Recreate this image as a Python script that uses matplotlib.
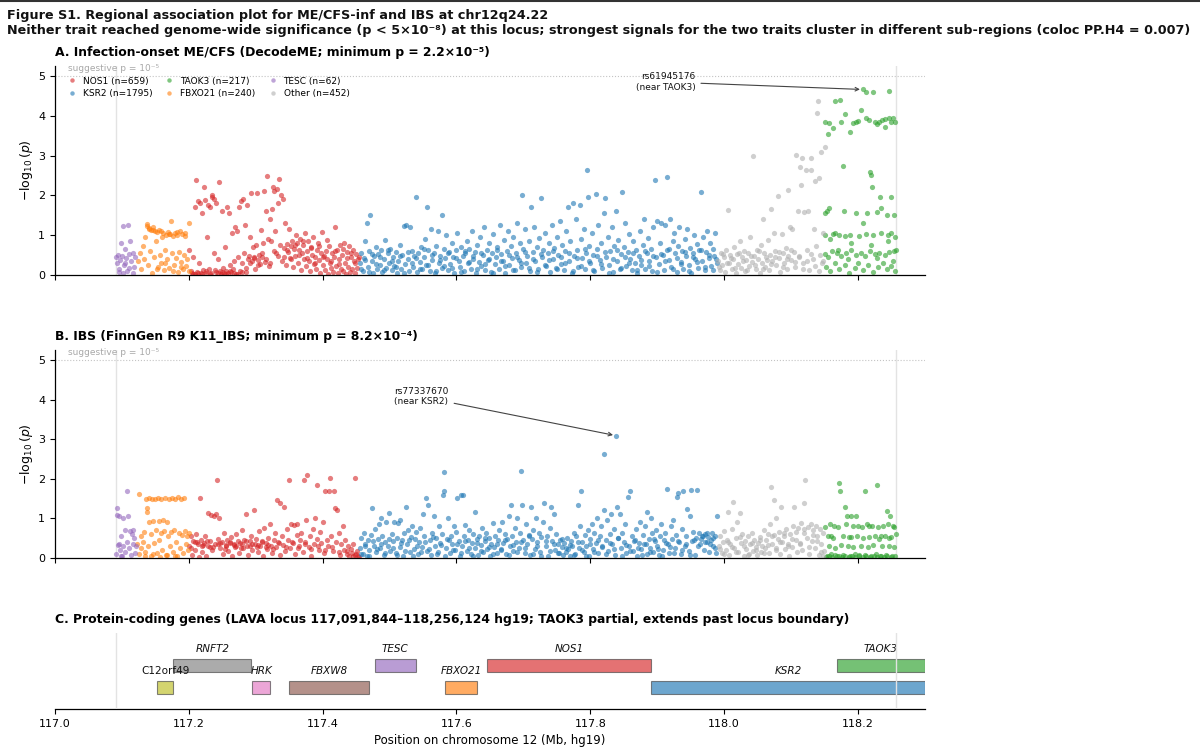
"""
Regional association plot (Figure S1): ME/CFS-inf and IBS at chr12q24.22.

Panels A and B are per-SNP -log10(p) scatters coloured by nearest gene,
panel C is the protein-coding gene track for the LAVA locus.
Writes out.png (1200x750).
"""

import matplotlib

matplotlib.use("Agg")
import matplotlib.pyplot as plt
from matplotlib.lines import Line2D

# ---- locus / thresholds ------------------------------------------------------
LOCUS_START = 117.091844
LOCUS_END = 118.256124
SUGGESTIVE = 5.0  # -log10(1e-5)
X_TICKS = [117.0, 117.2, 117.4, 117.6, 117.8, 118.0, 118.2]

GROUPS = ["NOS1", "KSR2", "TAOK3", "FBXO21", "TESC", "Other"]
GROUP_N = [659, 1795, 217, 240, 62, 452]

# ---- panel A: DecodeME infection-onset ME/CFS, (position Mb, -log10 p) -------
TESC_A = [
    (117.091, 0.45), (117.093, 0.30), (117.094, 0.50), (117.096, 0.15), (117.097, 0.38),
    (117.099, 0.80), (117.100, 0.48), (117.101, 0.05), (117.102, 1.22), (117.103, 0.25),
    (117.105, 0.65), (117.106, 0.42), (117.108, 0.10), (117.109, 1.25), (117.110, 0.52),
    (117.112, 0.85), (117.114, 0.35), (117.116, 0.55), (117.118, 0.20), (117.120, 0.45),
    (117.095, 0.08), (117.104, 0.30), (117.111, 0.18), (117.117, 0.05),
]
FBXO21_A = [
    (117.124, 0.35), (117.127, 0.55), (117.129, 0.15), (117.131, 0.72), (117.133, 0.40),
    (117.135, 0.95), (117.137, 1.22), (117.138, 1.27), (117.139, 0.25), (117.141, 1.15),
    (117.142, 0.60), (117.144, 1.12), (117.145, 0.05), (117.147, 1.20), (117.148, 0.45),
    (117.150, 1.10), (117.151, 0.85), (117.153, 1.08), (117.154, 0.20), (117.156, 1.12),
    (117.157, 0.50), (117.159, 0.30), (117.160, 0.95), (117.162, 1.05), (117.163, 0.12),
    (117.165, 0.62), (117.166, 1.00), (117.168, 0.40), (117.169, 1.08), (117.171, 0.18),
    (117.172, 1.02), (117.174, 1.36), (117.175, 0.55), (117.177, 0.98), (117.178, 0.25),
    (117.180, 1.05), (117.181, 0.42), (117.183, 1.00), (117.184, 0.08), (117.186, 0.58),
    (117.187, 1.10), (117.189, 0.32), (117.190, 1.02), (117.192, 0.15), (117.193, 0.50),
    (117.195, 1.05), (117.196, 0.22), (117.198, 0.40), (117.200, 1.30), (117.201, 0.10),
    (117.140, 1.18), (117.146, 1.14), (117.152, 0.15), (117.158, 1.10), (117.164, 0.30),
    (117.170, 1.04), (117.176, 0.10), (117.182, 1.08), (117.188, 0.20), (117.194, 0.98),
]
NOS1_A = [
    (117.201, 0.62), (117.203, 0.10), (117.205, 0.05), (117.207, 0.45), (117.209, 0.02),
    (117.210, 1.72), (117.211, 2.38), (117.212, 0.08), (117.214, 1.85), (117.215, 0.30),
    (117.217, 1.80), (117.218, 0.04), (117.219, 1.55), (117.221, 0.12), (117.223, 2.20),
    (117.224, 1.88), (117.225, 0.06), (117.227, 0.95), (117.228, 1.75), (117.230, 0.15),
    (117.231, 1.72), (117.232, 0.03), (117.234, 1.95), (117.235, 2.02), (117.237, 0.55),
    (117.238, 1.90), (117.240, 0.08), (117.241, 1.80), (117.243, 0.40), (117.245, 2.33),
    (117.246, 0.10), (117.248, 0.02), (117.249, 1.60), (117.251, 0.18), (117.252, 0.05),
    (117.254, 0.70), (117.255, 0.10), (117.257, 1.70), (117.258, 0.04), (117.260, 1.55),
    (117.261, 0.25), (117.263, 0.08), (117.264, 1.05), (117.266, 0.15), (117.267, 0.35),
    (117.269, 1.20), (117.270, 0.02), (117.272, 1.10), (117.273, 0.45), (117.275, 1.72),
    (117.276, 0.10), (117.278, 1.85), (117.279, 0.30), (117.281, 1.90), (117.282, 0.55),
    (117.284, 1.25), (117.285, 0.08), (117.287, 1.75), (117.288, 0.40), (117.290, 0.48),
    (117.291, 0.95), (117.293, 2.05), (117.294, 0.35), (117.296, 0.70), (117.297, 0.42),
    (117.299, 0.15), (117.300, 0.75), (117.302, 2.06), (117.303, 0.38), (117.305, 0.50),
    (117.306, 0.28), (117.308, 1.12), (117.309, 0.45), (117.311, 0.80), (117.312, 2.12),
    (117.314, 0.32), (117.315, 1.60), (117.317, 2.48), (117.318, 0.90), (117.320, 0.22),
    (117.321, 1.40), (117.323, 0.85), (117.324, 1.65), (117.326, 2.20), (117.327, 2.10),
    (117.329, 1.10), (117.330, 0.55), (117.332, 2.15), (117.333, 1.80), (117.335, 2.42),
    (117.336, 0.75), (117.338, 2.00), (117.339, 0.35), (117.341, 1.90), (117.342, 0.68),
    (117.344, 1.30), (117.345, 0.25), (117.347, 0.78), (117.348, 0.58), (117.350, 1.15),
    (117.351, 0.42), (117.353, 0.72), (117.354, 0.85), (117.356, 0.20), (117.357, 0.65),
    (117.359, 0.48), (117.360, 1.00), (117.362, 0.80), (117.363, 0.30), (117.365, 0.62),
    (117.366, 0.90), (117.368, 0.12), (117.369, 0.55), (117.371, 0.75), (117.372, 0.40),
    (117.374, 1.05), (117.375, 0.22), (117.377, 0.60), (117.378, 0.85), (117.380, 0.35),
    (117.381, 0.10), (117.383, 0.70), (117.384, 0.50), (117.386, 0.95), (117.387, 0.28),
    (117.389, 0.45), (117.390, 0.15), (117.392, 0.62), (117.393, 0.80), (117.395, 0.38),
    (117.396, 0.05), (117.398, 0.55), (117.399, 1.08), (117.401, 0.25), (117.402, 0.48),
    (117.404, 0.12), (117.405, 0.60), (117.407, 0.40), (117.408, 0.02), (117.410, 0.72),
    (117.411, 0.30), (117.413, 0.18), (117.414, 0.55), (117.416, 0.08), (117.417, 0.45),
    (117.419, 1.20), (117.420, 0.22), (117.422, 0.62), (117.423, 0.05), (117.425, 0.40),
    (117.426, 0.75), (117.428, 0.15), (117.429, 0.50), (117.431, 0.10), (117.432, 0.80),
    (117.434, 0.30), (117.435, 0.02), (117.437, 0.58), (117.438, 0.20), (117.440, 0.72),
    (117.441, 0.08), (117.443, 0.45), (117.444, 0.15), (117.446, 0.62), (117.447, 0.35),
    (117.449, 0.05), (117.450, 0.52), (117.452, 0.18), (117.453, 0.40),
    (117.206, 0.03), (117.213, 0.06), (117.220, 0.02), (117.226, 0.09), (117.233, 0.05),
    (117.239, 0.12), (117.244, 0.04), (117.250, 0.07), (117.256, 0.03), (117.262, 0.10),
    (117.268, 0.05), (117.274, 0.02), (117.280, 0.08), (117.286, 0.18),
]
NOS1_A_DENSE = [
    (117.342, 0.45), (117.346, 0.62), (117.352, 0.40), (117.358, 0.75), (117.364, 0.50),
    (117.370, 0.85), (117.376, 0.42), (117.382, 0.68), (117.388, 0.30), (117.394, 0.72),
    (117.400, 0.45), (117.406, 0.88), (117.412, 0.35), (117.418, 0.60), (117.424, 0.28),
    (117.430, 0.65), (117.436, 0.42), (117.442, 0.55), (117.448, 0.30), (117.454, 0.45),
    (117.292, 0.30), (117.298, 0.45), (117.304, 0.25), (117.310, 0.55), (117.316, 0.40),
    (117.322, 0.30), (117.328, 0.60), (117.334, 0.48),
]
KSR2_A = [
    (117.456, 0.30), (117.458, 0.55), (117.460, 0.10), (117.462, 0.42), (117.464, 0.85),
    (117.466, 1.30), (117.468, 0.20), (117.470, 0.60), (117.471, 1.51), (117.473, 0.35),
    (117.475, 0.05), (117.477, 0.48), (117.479, 0.70), (117.481, 0.15), (117.483, 0.52),
    (117.485, 0.25), (117.487, 0.62), (117.489, 0.08), (117.491, 0.40), (117.493, 0.88),
    (117.495, 0.18), (117.497, 0.55), (117.499, 0.30), (117.501, 0.65), (117.503, 0.12),
    (117.505, 0.45), (117.507, 0.22), (117.509, 0.58), (117.511, 0.05), (117.513, 0.35),
    (117.515, 0.75), (117.517, 0.15), (117.519, 0.50), (117.521, 1.22), (117.523, 0.28),
    (117.525, 1.25), (117.527, 0.40), (117.529, 0.10), (117.531, 1.20), (117.533, 0.60),
    (117.535, 0.20), (117.537, 0.48), (117.539, 1.97), (117.541, 0.08), (117.543, 0.55),
    (117.545, 0.32), (117.547, 0.70), (117.549, 0.15), (117.551, 0.45), (117.553, 0.90),
    (117.555, 0.25), (117.556, 1.72), (117.558, 0.62), (117.560, 0.10), (117.562, 1.15),
    (117.564, 0.38), (117.566, 0.55), (117.568, 0.05), (117.570, 0.72), (117.572, 1.10),
    (117.574, 0.30), (117.576, 0.48), (117.578, 0.18), (117.579, 1.51), (117.581, 0.65),
    (117.583, 0.42), (117.585, 1.00), (117.587, 0.12), (117.589, 0.58), (117.591, 0.28),
    (117.593, 0.80), (117.595, 0.45), (117.597, 0.06), (117.599, 0.62), (117.601, 1.05),
    (117.603, 0.35), (117.605, 0.20), (117.607, 0.70), (117.609, 0.48), (117.611, 0.10),
    (117.613, 0.55), (117.615, 0.85), (117.617, 0.30), (117.619, 0.65), (117.621, 0.15),
    (117.623, 1.10), (117.625, 0.40), (117.627, 0.58), (117.629, 0.05), (117.631, 0.75),
    (117.633, 0.32), (117.635, 0.95), (117.637, 0.22), (117.639, 0.50), (117.641, 1.20),
    (117.643, 0.12), (117.645, 0.62), (117.647, 0.38), (117.649, 0.80), (117.651, 0.08),
    (117.653, 0.55), (117.655, 1.02), (117.657, 0.28), (117.659, 0.45), (117.661, 0.70),
    (117.663, 0.15), (117.665, 1.25), (117.667, 0.52), (117.669, 0.35), (117.671, 0.88),
    (117.673, 0.05), (117.675, 0.60), (117.677, 1.10), (117.679, 0.25), (117.681, 0.72),
    (117.683, 0.42), (117.685, 0.95), (117.687, 0.12), (117.689, 0.55), (117.691, 1.30),
    (117.693, 0.38), (117.695, 0.80), (117.697, 0.20), (117.698, 2.00), (117.700, 0.65),
    (117.702, 1.15), (117.704, 0.30), (117.706, 0.48), (117.708, 0.85), (117.710, 0.10),
    (117.712, 1.72), (117.714, 0.58), (117.716, 1.20), (117.718, 0.35), (117.720, 0.70),
    (117.722, 0.15), (117.724, 0.92), (117.726, 1.93), (117.728, 0.45), (117.730, 0.62),
    (117.732, 1.05), (117.734, 0.22), (117.736, 0.55), (117.738, 0.80), (117.740, 0.08),
    (117.742, 1.25), (117.744, 0.40), (117.746, 0.68), (117.748, 0.18), (117.750, 0.95),
    (117.752, 0.50), (117.754, 1.35), (117.756, 0.28), (117.758, 0.75), (117.760, 0.12),
    (117.762, 0.60), (117.764, 1.10), (117.766, 1.70), (117.768, 0.35), (117.770, 0.85),
    (117.772, 0.05), (117.774, 1.80), (117.776, 0.48), (117.778, 1.40), (117.780, 0.62),
    (117.782, 0.20), (117.784, 1.75), (117.786, 0.90), (117.788, 0.42), (117.790, 1.15),
    (117.792, 0.15), (117.794, 0.55), (117.795, 2.64), (117.796, 1.97), (117.798, 0.72),
    (117.800, 0.30), (117.802, 1.05), (117.804, 0.50), (117.806, 0.10), (117.808, 2.03),
    (117.810, 0.65), (117.812, 1.25), (117.814, 0.38), (117.816, 0.80), (117.818, 0.18),
    (117.820, 1.55), (117.822, 1.94), (117.824, 0.45), (117.826, 0.95), (117.828, 0.25),
    (117.830, 0.60), (117.832, 1.20), (117.834, 0.08), (117.836, 0.72), (117.838, 1.60),
    (117.840, 0.35), (117.842, 0.88), (117.844, 0.15), (117.846, 0.52), (117.848, 2.09),
    (117.850, 0.70), (117.852, 1.30), (117.854, 0.22), (117.856, 0.58), (117.858, 1.02),
    (117.860, 0.40), (117.862, 0.12), (117.864, 0.85), (117.866, 0.30), (117.868, 0.62),
    (117.870, 0.05), (117.872, 0.48), (117.874, 1.10), (117.876, 0.25), (117.878, 0.75),
    (117.880, 1.40), (117.882, 0.15), (117.884, 0.55), (117.886, 0.92), (117.888, 0.35),
    (117.890, 0.65), (117.892, 0.10), (117.894, 1.20), (117.896, 2.39), (117.898, 0.45),
    (117.900, 1.35), (117.902, 0.28), (117.904, 0.80), (117.906, 1.30), (117.908, 0.50),
    (117.910, 0.12), (117.912, 1.25), (117.914, 0.62), (117.915, 2.45), (117.917, 0.38),
    (117.919, 1.40), (117.921, 0.20), (117.923, 0.85), (117.925, 1.05), (117.927, 0.55),
    (117.929, 0.08), (117.931, 0.72), (117.933, 1.20), (117.935, 0.32), (117.937, 0.60),
    (117.939, 0.15), (117.941, 0.90), (117.943, 0.48), (117.945, 1.15), (117.947, 0.25),
    (117.949, 0.68), (117.951, 0.05), (117.953, 0.55), (117.955, 1.00), (117.957, 0.40),
    (117.959, 0.78), (117.961, 0.18), (117.963, 0.62), (117.965, 2.09), (117.967, 0.35),
    (117.969, 0.95), (117.971, 0.12), (117.973, 0.58), (117.975, 1.10), (117.977, 0.42),
    (117.979, 0.80), (117.981, 0.22), (117.983, 0.65), (117.985, 0.48), (117.987, 1.05),
    (117.989, 0.30),
]
KSR2_A_DENSE = [
    (117.457, 0.15), (117.463, 0.38), (117.469, 0.08), (117.474, 0.52), (117.480, 0.28),
    (117.486, 0.45), (117.492, 0.12), (117.498, 0.62), (117.504, 0.35), (117.510, 0.20),
    (117.516, 0.48), (117.522, 0.05), (117.528, 0.58), (117.534, 0.30), (117.540, 0.42),
    (117.546, 0.15), (117.552, 0.65), (117.558, 0.25), (117.564, 0.50), (117.570, 0.10),
    (117.576, 0.38), (117.582, 0.22), (117.588, 0.55), (117.594, 0.18), (117.600, 0.42),
    (117.606, 0.08), (117.612, 0.60), (117.618, 0.32), (117.624, 0.48), (117.630, 0.15),
    (117.636, 0.55), (117.642, 0.28), (117.648, 0.40), (117.654, 0.05), (117.660, 0.62),
    (117.666, 0.35), (117.672, 0.22), (117.678, 0.50), (117.684, 0.12), (117.690, 0.45),
    (117.696, 0.30), (117.702, 0.58), (117.708, 0.18), (117.714, 0.40), (117.720, 0.08),
    (117.726, 0.52), (117.732, 0.25), (117.738, 0.38), (117.744, 0.60), (117.750, 0.15),
    (117.756, 0.45), (117.762, 0.30), (117.768, 0.55), (117.774, 0.10), (117.780, 0.42),
    (117.786, 0.22), (117.792, 0.65), (117.798, 0.35), (117.804, 0.12), (117.810, 0.48),
    (117.816, 0.28), (117.822, 0.58), (117.828, 0.05), (117.834, 0.40), (117.840, 0.62),
    (117.846, 0.18), (117.852, 0.45), (117.858, 0.30), (117.864, 0.55), (117.870, 0.12),
    (117.876, 0.38), (117.882, 0.60), (117.888, 0.22), (117.894, 0.48), (117.900, 0.08),
    (117.906, 0.52), (117.912, 0.35), (117.918, 0.65), (117.924, 0.15), (117.930, 0.42),
    (117.936, 0.28), (117.942, 0.58), (117.948, 0.10), (117.954, 0.45), (117.960, 0.32),
    (117.966, 0.62), (117.972, 0.20), (117.978, 0.50), (117.984, 0.12), (117.988, 0.40),
]
OTHER_A = [
    (117.991, 0.35), (117.993, 0.12), (117.995, 0.55), (117.997, 0.25), (117.999, 0.45),
    (118.001, 0.08), (118.003, 0.62), (118.005, 1.63), (118.007, 0.30), (118.009, 0.50),
    (118.011, 0.15), (118.013, 0.40), (118.015, 0.70), (118.017, 0.05), (118.019, 0.52),
    (118.021, 0.28), (118.023, 0.85), (118.025, 0.18), (118.027, 0.45), (118.029, 0.60),
    (118.031, 0.10), (118.033, 0.38), (118.035, 0.55), (118.037, 0.22), (118.039, 0.95),
    (118.041, 0.32), (118.043, 2.99), (118.045, 0.48), (118.047, 0.15), (118.049, 0.62),
    (118.051, 0.40), (118.053, 0.05), (118.055, 0.75), (118.057, 0.30), (118.058, 1.40),
    (118.059, 0.55), (118.061, 0.20), (118.063, 0.45), (118.065, 0.88), (118.067, 0.12),
    (118.069, 0.50), (118.070, 1.67), (118.072, 0.35), (118.074, 1.05), (118.076, 0.60),
    (118.078, 0.25), (118.080, 1.98), (118.082, 0.42), (118.084, 0.08), (118.086, 1.02),
    (118.088, 0.55), (118.090, 0.30), (118.092, 0.68), (118.094, 0.15), (118.095, 2.14),
    (118.096, 0.48), (118.098, 1.20), (118.100, 0.38), (118.102, 1.15), (118.104, 0.58),
    (118.106, 0.20), (118.108, 3.02), (118.110, 1.60), (118.112, 0.45), (118.113, 2.72),
    (118.115, 2.26), (118.116, 2.95), (118.118, 0.30), (118.120, 1.58), (118.122, 2.65),
    (118.124, 0.62), (118.125, 1.62), (118.127, 0.12), (118.129, 2.95), (118.130, 2.65),
    (118.132, 0.40), (118.134, 1.15), (118.136, 2.37), (118.137, 0.72), (118.138, 4.06),
    (118.140, 4.36), (118.141, 2.43), (118.143, 0.50), (118.145, 3.10), (118.147, 0.35),
    (118.148, 1.05), (118.150, 3.21),
]
OTHER_A_DENSE = [
    (117.992, 0.20), (117.998, 0.52), (118.004, 0.30), (118.010, 0.42), (118.016, 0.18),
    (118.022, 0.55), (118.028, 0.35), (118.034, 0.12), (118.040, 0.48), (118.046, 0.25),
    (118.052, 0.60), (118.058, 0.15), (118.064, 0.38), (118.070, 0.28), (118.076, 0.45),
    (118.082, 0.58), (118.088, 0.20), (118.094, 0.40), (118.100, 0.62), (118.106, 0.32),
    (118.112, 0.48), (118.118, 0.15), (118.124, 0.35), (118.130, 0.52), (118.136, 0.22),
    (118.142, 0.10), (118.146, 0.30),
]
TAOK3_A = [
    (118.207, 4.66), (118.212, 4.60), (118.223, 4.60), (118.246, 4.62), (118.166, 4.38),
    (118.173, 4.40), (118.204, 4.15), (118.181, 4.04), (118.150, 3.85), (118.157, 3.82),
    (118.162, 3.70), (118.175, 3.85), (118.188, 3.60), (118.197, 3.85), (118.212, 3.95),
    (118.217, 3.90), (118.225, 3.85), (118.231, 3.85), (118.236, 3.90), (118.241, 3.92),
    (118.246, 3.95), (118.250, 3.85), (118.252, 3.95), (118.255, 3.85), (118.229, 3.80),
    (118.240, 3.72), (118.200, 3.87), (118.193, 3.83), (118.155, 3.54), (118.178, 2.74),
    (118.218, 2.60), (118.220, 2.50), (118.221, 2.20), (118.233, 1.95), (118.250, 1.97),
    (118.151, 1.55), (118.154, 1.62), (118.156, 1.68), (118.179, 1.60), (118.197, 1.55),
    (118.213, 1.55), (118.228, 1.58), (118.235, 1.68), (118.244, 1.52), (118.254, 1.50),
    (118.207, 1.30), (118.150, 1.00), (118.162, 1.02), (118.166, 1.05), (118.172, 1.00),
    (118.180, 0.98), (118.188, 1.00), (118.202, 0.97), (118.212, 1.02), (118.222, 1.00),
    (118.235, 1.05), (118.245, 1.00), (118.255, 0.95), (118.158, 0.90), (118.250, 1.05),
    (118.150, 0.52), (118.155, 0.45), (118.161, 0.60), (118.168, 0.55), (118.175, 0.48),
    (118.182, 0.55), (118.190, 0.62), (118.197, 0.50), (118.205, 0.55), (118.210, 0.48),
    (118.218, 0.60), (118.225, 0.52), (118.232, 0.55), (118.240, 0.50), (118.247, 0.58),
    (118.253, 0.60), (118.256, 0.62), (118.152, 0.20), (118.158, 0.10), (118.165, 0.30),
    (118.172, 0.15), (118.180, 0.25), (118.187, 0.05), (118.195, 0.18), (118.200, 0.30),
    (118.208, 0.12), (118.215, 0.25), (118.222, 0.08), (118.230, 0.20), (118.237, 0.30),
    (118.243, 0.15), (118.250, 0.22), (118.255, 0.10), (118.190, 0.80), (118.220, 0.75),
    (118.245, 0.85), (118.170, 0.62), (118.185, 0.40), (118.228, 0.42), (118.252, 0.35),
]

# ---- panel B: FinnGen R9 K11_IBS ---------------------------------------------
TESC_B = [
    (117.091, 0.10), (117.092, 1.26), (117.093, 1.09), (117.095, 0.35), (117.096, 1.05),
    (117.097, 0.20), (117.098, 0.55), (117.100, 0.05), (117.101, 1.02), (117.102, 0.30),
    (117.104, 0.70), (117.105, 0.15), (117.107, 1.68), (117.108, 0.40), (117.109, 1.05),
    (117.110, 0.25), (117.112, 0.67), (117.113, 0.08), (117.115, 0.60), (117.116, 0.35),
    (117.117, 0.71), (117.118, 0.50), (117.119, 0.12), (117.121, 0.30), (117.094, 0.32),
    (117.099, 0.05),
]
FBXO21_B = [
    (117.123, 0.35), (117.125, 1.61), (117.126, 0.10), (117.128, 0.55), (117.129, 0.25),
    (117.131, 0.40), (117.133, 0.65), (117.134, 0.15), (117.136, 1.50), (117.137, 1.26),
    (117.138, 1.17), (117.139, 0.30), (117.140, 1.52), (117.141, 0.92), (117.143, 0.60),
    (117.144, 0.05), (117.145, 1.48), (117.147, 0.94), (117.148, 0.38), (117.150, 1.50),
    (117.151, 0.70), (117.152, 0.12), (117.154, 1.52), (117.155, 0.93), (117.156, 0.45),
    (117.158, 0.62), (117.159, 1.49), (117.160, 0.20), (117.162, 0.95), (117.163, 0.68),
    (117.165, 1.51), (117.166, 0.08), (117.167, 0.92), (117.169, 0.55), (117.170, 1.50),
    (117.172, 0.30), (117.173, 0.65), (117.175, 1.52), (117.176, 0.15), (117.178, 0.70),
    (117.179, 1.48), (117.181, 0.40), (117.182, 0.05), (117.184, 1.53), (117.185, 0.62),
    (117.187, 0.25), (117.188, 1.50), (117.190, 0.58), (117.191, 0.12), (117.193, 1.52),
    (117.194, 0.68), (117.196, 0.35), (117.198, 0.55), (117.199, 0.20), (117.201, 0.62),
    (117.135, 0.05), (117.146, 0.10), (117.157, 0.03), (117.168, 0.08), (117.180, 0.04),
]
NOS1_B = [
    (117.201, 0.30), (117.203, 0.55), (117.205, 0.08), (117.207, 0.42), (117.209, 0.20),
    (117.211, 0.60), (117.213, 0.35), (117.215, 0.02), (117.216, 1.51), (117.218, 0.45),
    (117.220, 0.15), (117.222, 0.38), (117.224, 0.55), (117.226, 0.05), (117.228, 0.30),
    (117.229, 1.13), (117.231, 0.42), (117.233, 1.08), (117.235, 0.20), (117.237, 1.05),
    (117.239, 0.35), (117.240, 1.12), (117.242, 1.97), (117.243, 0.48), (117.245, 1.00),
    (117.247, 0.25), (117.249, 0.40), (117.251, 0.10), (117.253, 0.62), (117.255, 0.32),
    (117.257, 0.45), (117.259, 0.18), (117.261, 0.38), (117.263, 0.52), (117.265, 0.05),
    (117.267, 0.35), (117.269, 0.28), (117.271, 0.60), (117.273, 0.42), (117.275, 0.12),
    (117.277, 0.38), (117.279, 0.70), (117.281, 0.25), (117.283, 0.45), (117.285, 1.12),
    (117.287, 0.30), (117.289, 0.08), (117.291, 0.42), (117.293, 0.55), (117.295, 0.20),
    (117.297, 1.20), (117.299, 0.35), (117.301, 0.48), (117.303, 0.15), (117.305, 0.68),
    (117.307, 0.30), (117.309, 0.42), (117.311, 0.05), (117.313, 0.75), (117.315, 0.38),
    (117.317, 0.22), (117.319, 0.50), (117.321, 0.85), (117.323, 0.30), (117.325, 0.12),
    (117.327, 0.45), (117.329, 0.62), (117.331, 0.28), (117.332, 1.47), (117.334, 0.40),
    (117.336, 0.08), (117.337, 1.38), (117.339, 0.55), (117.341, 0.32), (117.342, 1.30),
    (117.344, 0.18), (117.346, 0.72), (117.348, 0.45), (117.349, 1.97), (117.351, 0.25),
    (117.353, 0.85), (117.355, 0.38), (117.357, 0.83), (117.359, 0.10), (117.361, 0.58),
    (117.362, 0.85), (117.364, 0.30), (117.366, 0.45), (117.368, 0.62), (117.370, 0.15),
    (117.372, 1.97), (117.374, 0.40), (117.375, 0.95), (117.377, 2.10), (117.379, 0.28),
    (117.381, 0.55), (117.383, 0.05), (117.385, 0.72), (117.387, 0.35), (117.389, 1.00),
    (117.391, 0.48), (117.392, 1.85), (117.394, 0.20), (117.396, 0.65), (117.398, 0.38),
    (117.400, 0.90), (117.402, 0.12), (117.404, 1.68), (117.406, 0.45), (117.408, 0.30),
    (117.409, 1.70), (117.411, 2.01), (117.413, 0.55), (117.415, 0.18), (117.417, 1.70),
    (117.419, 1.27), (117.420, 0.40), (117.422, 1.20), (117.424, 0.62), (117.426, 0.08),
    (117.428, 0.35), (117.430, 0.80), (117.432, 0.20), (117.434, 0.45), (117.436, 0.10),
    (117.438, 0.30), (117.440, 0.05), (117.442, 0.22), (117.444, 0.12), (117.446, 0.35),
    (117.448, 0.08), (117.449, 2.03), (117.451, 0.18), (117.453, 0.05),
    (117.210, 0.40), (117.221, 0.32), (117.232, 0.28), (117.244, 0.35), (117.256, 0.30),
    (117.268, 0.33), (117.280, 0.36), (117.292, 0.30), (117.304, 0.34), (117.316, 0.28),
]
NOS1_B_DENSE = [
    (117.204, 0.25), (117.212, 0.40), (117.219, 0.30), (117.227, 0.42), (117.236, 0.28),
    (117.246, 0.38), (117.254, 0.22), (117.262, 0.40), (117.270, 0.30), (117.278, 0.25),
    (117.286, 0.42), (117.294, 0.35), (117.302, 0.28), (117.310, 0.40), (117.318, 0.32),
    (117.326, 0.22), (117.335, 0.38), (117.345, 0.28), (117.354, 0.40), (117.363, 0.25),
    (117.373, 0.35), (117.382, 0.22), (117.393, 0.30), (117.403, 0.20), (117.414, 0.28),
    (117.425, 0.15), (117.437, 0.18), (117.445, 0.05), (117.450, 0.10), (117.454, 0.02),
]
KSR2_B = [
    (117.456, 0.25), (117.458, 0.50), (117.460, 0.10), (117.462, 0.62), (117.464, 0.35),
    (117.466, 0.05), (117.468, 0.45), (117.470, 0.20), (117.472, 0.58), (117.474, 1.26),
    (117.476, 0.30), (117.478, 0.72), (117.480, 0.15), (117.482, 0.48), (117.484, 0.85),
    (117.486, 0.25), (117.487, 1.00), (117.489, 0.55), (117.491, 0.08), (117.493, 0.40),
    (117.495, 0.90), (117.497, 0.30), (117.499, 1.13), (117.501, 0.18), (117.503, 0.60),
    (117.505, 0.42), (117.507, 0.92), (117.509, 0.12), (117.511, 0.50), (117.513, 0.88),
    (117.515, 0.28), (117.516, 0.95), (117.518, 0.45), (117.520, 0.05), (117.522, 0.62),
    (117.524, 1.30), (117.526, 0.35), (117.528, 0.70), (117.530, 0.15), (117.532, 0.52),
    (117.534, 0.82), (117.536, 0.22), (117.538, 0.48), (117.540, 0.65), (117.542, 0.10),
    (117.544, 0.40), (117.546, 0.75), (117.548, 0.28), (117.550, 1.10), (117.552, 0.55),
    (117.554, 1.51), (117.556, 0.18), (117.558, 1.34), (117.560, 0.45), (117.562, 0.08),
    (117.564, 0.62), (117.566, 1.05), (117.568, 0.30), (117.570, 0.50), (117.572, 0.15),
    (117.574, 0.80), (117.576, 0.38), (117.578, 0.60), (117.580, 1.60), (117.581, 2.18),
    (117.582, 1.68), (117.584, 0.25), (117.586, 0.48), (117.588, 1.00), (117.590, 0.12),
    (117.592, 0.55), (117.594, 0.35), (117.596, 0.80), (117.598, 0.20), (117.600, 0.65),
    (117.601, 1.51), (117.603, 0.42), (117.605, 0.05), (117.606, 1.59), (117.608, 0.30),
    (117.609, 1.60), (117.611, 0.55), (117.613, 0.84), (117.615, 0.18), (117.617, 0.45),
    (117.619, 0.70), (117.621, 0.10), (117.623, 0.38), (117.625, 0.60), (117.627, 0.25),
    (117.628, 1.17), (117.630, 0.48), (117.632, 0.08), (117.634, 0.55), (117.636, 0.32),
    (117.638, 0.75), (117.640, 0.15), (117.642, 0.42), (117.644, 0.62), (117.646, 0.22),
    (117.648, 0.50), (117.650, 0.05), (117.652, 0.35), (117.654, 0.88), (117.656, 0.28),
    (117.658, 0.55), (117.660, 0.12), (117.662, 0.45), (117.664, 0.70), (117.666, 0.20),
    (117.668, 0.92), (117.670, 0.38), (117.672, 0.60), (117.674, 0.10), (117.676, 0.48),
    (117.678, 1.05), (117.680, 0.30), (117.681, 1.34), (117.683, 0.55), (117.685, 0.18),
    (117.687, 0.75), (117.689, 0.40), (117.691, 1.00), (117.693, 0.25), (117.695, 0.62),
    (117.697, 2.20), (117.698, 1.34), (117.700, 0.45), (117.702, 0.12), (117.704, 0.85),
    (117.706, 0.35), (117.708, 0.58), (117.710, 0.08), (117.711, 1.30), (117.713, 0.48),
    (117.715, 0.70), (117.717, 0.22), (117.719, 1.02), (117.721, 0.40), (117.723, 0.62),
    (117.725, 0.15), (117.727, 0.52), (117.729, 0.90), (117.731, 1.38), (117.733, 0.30),
    (117.735, 0.55), (117.737, 0.05), (117.739, 0.75), (117.741, 1.30), (117.743, 0.42),
    (117.745, 1.10), (117.747, 0.20), (117.749, 0.60), (117.751, 0.35), (117.753, 0.12),
    (117.755, 0.45), (117.757, 0.28), (117.759, 0.08), (117.761, 0.38), (117.763, 0.15),
    (117.765, 0.50), (117.767, 0.22), (117.769, 0.05), (117.771, 0.42), (117.773, 0.30),
    (117.775, 0.62), (117.777, 0.10), (117.779, 0.55), (117.781, 1.34), (117.783, 0.25),
    (117.785, 0.80), (117.786, 1.68), (117.788, 0.40), (117.790, 0.15), (117.792, 0.58),
    (117.794, 0.30), (117.796, 0.70), (117.798, 0.05), (117.800, 0.48), (117.802, 0.85),
    (117.804, 0.22), (117.806, 0.62), (117.808, 0.38), (117.810, 1.00), (117.812, 0.12),
    (117.814, 0.55), (117.816, 0.80), (117.818, 0.30), (117.820, 2.63), (117.821, 1.22),
    (117.823, 0.45), (117.825, 0.95), (117.827, 0.18), (117.829, 0.60), (117.831, 1.10),
    (117.833, 0.35), (117.835, 0.72), (117.837, 0.08), (117.838, 3.09), (117.840, 1.30),
    (117.842, 0.50), (117.844, 1.10), (117.846, 0.25), (117.848, 0.62), (117.850, 0.40),
    (117.852, 0.85), (117.854, 0.12), (117.856, 1.55), (117.858, 0.30), (117.860, 1.70),
    (117.862, 0.55), (117.864, 0.18), (117.866, 0.45), (117.868, 0.72), (117.870, 0.05),
    (117.872, 0.38), (117.874, 0.90), (117.876, 0.22), (117.878, 0.58), (117.880, 0.35),
    (117.882, 0.80), (117.884, 0.10), (117.885, 1.16), (117.887, 0.48), (117.889, 0.25),
    (117.890, 1.00), (117.892, 0.62), (117.894, 0.15), (117.896, 0.42), (117.898, 0.70),
    (117.900, 0.30), (117.902, 0.08), (117.904, 0.55), (117.906, 0.85), (117.908, 0.20),
    (117.910, 0.45), (117.912, 0.62), (117.914, 1.74), (117.916, 0.35), (117.918, 0.12),
    (117.920, 0.80), (117.922, 0.48), (117.924, 0.95), (117.926, 0.25), (117.928, 0.58),
    (117.930, 1.55), (117.931, 1.63), (117.933, 0.40), (117.935, 0.10), (117.937, 0.72),
    (117.939, 1.68), (117.941, 0.30), (117.943, 0.55), (117.945, 1.24), (117.947, 0.18),
    (117.949, 1.05), (117.950, 1.72), (117.952, 0.42), (117.954, 0.65), (117.956, 0.08),
    (117.958, 0.50), (117.960, 1.72), (117.962, 0.62), (117.964, 0.35), (117.966, 0.48),
    (117.968, 0.55), (117.970, 0.20), (117.972, 0.60), (117.974, 0.40), (117.976, 0.52),
    (117.978, 0.15), (117.980, 0.45), (117.982, 0.62), (117.984, 0.30), (117.986, 0.55),
    (117.988, 0.12), (117.990, 1.07),
]
KSR2_B_DENSE = [
    (117.457, 0.10), (117.463, 0.30), (117.469, 0.05), (117.475, 0.42), (117.481, 0.22),
    (117.487, 0.35), (117.493, 0.12), (117.499, 0.48), (117.505, 0.25), (117.511, 0.08),
    (117.517, 0.38), (117.523, 0.18), (117.529, 0.45), (117.535, 0.05), (117.541, 0.30),
    (117.547, 0.15), (117.553, 0.40), (117.559, 0.22), (117.565, 0.52), (117.571, 0.10),
    (117.577, 0.32), (117.583, 0.05), (117.589, 0.45), (117.595, 0.20), (117.601, 0.35),
    (117.607, 0.12), (117.613, 0.42), (117.619, 0.25), (117.625, 0.05), (117.631, 0.38),
    (117.637, 0.18), (117.643, 0.50), (117.649, 0.28), (117.655, 0.10), (117.661, 0.35),
    (117.667, 0.22), (117.673, 0.45), (117.679, 0.08), (117.685, 0.32), (117.691, 0.15),
    (117.697, 0.40), (117.703, 0.25), (117.709, 0.55), (117.715, 0.10), (117.721, 0.30),
    (117.727, 0.05), (117.733, 0.42), (117.739, 0.18), (117.745, 0.35), (117.751, 0.12),
    (117.757, 0.48), (117.763, 0.25), (117.769, 0.32), (117.775, 0.08), (117.781, 0.40),
    (117.787, 0.20), (117.793, 0.05), (117.799, 0.35), (117.805, 0.15), (117.811, 0.45),
    (117.817, 0.28), (117.823, 0.10), (117.829, 0.38), (117.835, 0.22), (117.841, 0.50),
    (117.847, 0.05), (117.853, 0.32), (117.859, 0.18), (117.865, 0.42), (117.871, 0.25),
    (117.877, 0.08), (117.883, 0.35), (117.889, 0.15), (117.895, 0.48), (117.901, 0.22),
    (117.907, 0.05), (117.913, 0.38), (117.919, 0.28), (117.925, 0.12), (117.931, 0.42),
    (117.937, 0.20), (117.943, 0.35), (117.949, 0.08), (117.955, 0.45), (117.961, 0.30),
    (117.967, 0.55), (117.971, 0.40), (117.975, 0.62), (117.979, 0.35), (117.983, 0.50),
    (117.987, 0.25),
]
OTHER_B = [
    (117.992, 0.30), (117.994, 0.55), (117.996, 0.12), (117.998, 0.40), (118.000, 0.68),
    (118.002, 0.20), (118.004, 0.45), (118.005, 1.17), (118.007, 0.08), (118.009, 0.35),
    (118.011, 0.72), (118.013, 1.41), (118.015, 0.25), (118.017, 0.50), (118.019, 0.90),
    (118.021, 0.15), (118.023, 1.13), (118.025, 0.38), (118.027, 0.60), (118.029, 0.05),
    (118.031, 0.42), (118.033, 0.22), (118.035, 0.55), (118.037, 0.10), (118.039, 0.35),
    (118.041, 0.62), (118.043, 0.18), (118.045, 0.45), (118.047, 0.28), (118.049, 0.08),
    (118.051, 0.38), (118.053, 0.52), (118.055, 0.15), (118.057, 0.30), (118.059, 0.70),
    (118.061, 0.25), (118.063, 0.45), (118.065, 0.60), (118.067, 0.12), (118.069, 0.85),
    (118.070, 1.79), (118.072, 0.35), (118.074, 0.58), (118.075, 1.47), (118.077, 0.20),
    (118.078, 1.00), (118.080, 0.48), (118.082, 0.65), (118.084, 0.10), (118.085, 1.30),
    (118.087, 0.40), (118.089, 0.55), (118.091, 0.22), (118.093, 0.72), (118.095, 0.35),
    (118.097, 0.05), (118.099, 0.60), (118.101, 0.28), (118.103, 0.82), (118.105, 1.30),
    (118.107, 0.45), (118.109, 0.15), (118.111, 0.75), (118.113, 0.38), (118.115, 0.88),
    (118.117, 0.20), (118.119, 0.62), (118.120, 1.38), (118.121, 1.97), (118.123, 0.50),
    (118.125, 0.78), (118.127, 0.10), (118.129, 0.85), (118.131, 0.42), (118.133, 0.70),
    (118.135, 0.25), (118.137, 0.80), (118.139, 0.55), (118.141, 0.08), (118.143, 0.72),
    (118.145, 0.35), (118.147, 0.62), (118.149, 0.18),
]
OTHER_B_DENSE = [
    (117.993, 0.22), (117.999, 0.10), (118.006, 0.40), (118.012, 0.28), (118.018, 0.15),
    (118.024, 0.52), (118.030, 0.30), (118.036, 0.08), (118.042, 0.38), (118.048, 0.20),
    (118.054, 0.45), (118.060, 0.12), (118.066, 0.32), (118.072, 0.55), (118.078, 0.25),
    (118.084, 0.40), (118.090, 0.62), (118.096, 0.30), (118.102, 0.48), (118.108, 0.65),
    (118.114, 0.35), (118.120, 0.72), (118.126, 0.28), (118.132, 0.58), (118.138, 0.42),
    (118.144, 0.15), (118.148, 0.05),
]
TAOK3_B = [
    (118.151, 0.78), (118.153, 0.05), (118.155, 0.55), (118.157, 0.30), (118.158, 0.85),
    (118.160, 0.10), (118.162, 0.50), (118.164, 0.82), (118.166, 0.25), (118.168, 0.05),
    (118.170, 0.78), (118.172, 1.89), (118.173, 1.69), (118.175, 0.32), (118.177, 0.55),
    (118.178, 0.08), (118.180, 1.28), (118.182, 0.85), (118.183, 1.07), (118.185, 0.30),
    (118.187, 0.52), (118.188, 0.05), (118.190, 1.07), (118.192, 0.80), (118.193, 0.28),
    (118.195, 0.10), (118.197, 1.05), (118.199, 0.55), (118.200, 0.82), (118.202, 0.05),
    (118.204, 0.30), (118.206, 0.78), (118.208, 0.50), (118.210, 1.70), (118.211, 0.08),
    (118.213, 0.85), (118.215, 0.28), (118.217, 0.52), (118.219, 0.05), (118.221, 0.80),
    (118.223, 0.32), (118.225, 0.55), (118.227, 0.10), (118.229, 1.85), (118.230, 0.78),
    (118.232, 0.48), (118.234, 0.05), (118.236, 0.30), (118.238, 0.82), (118.240, 0.55),
    (118.242, 0.08), (118.244, 1.19), (118.245, 0.85), (118.247, 0.30), (118.248, 1.07),
    (118.250, 0.52), (118.251, 0.05), (118.253, 0.78), (118.254, 0.28), (118.256, 0.60),
    (118.152, 0.03), (118.156, 0.06), (118.161, 0.02), (118.165, 0.08), (118.171, 0.04),
    (118.176, 0.02), (118.181, 0.06), (118.186, 0.03), (118.191, 0.05), (118.196, 0.02),
    (118.201, 0.07), (118.207, 0.03), (118.212, 0.05), (118.218, 0.02), (118.224, 0.06),
    (118.228, 0.03), (118.233, 0.05), (118.239, 0.02), (118.243, 0.06), (118.249, 0.03),
    (118.255, 0.04), (118.160, 0.55), (118.190, 0.52), (118.216, 0.80), (118.235, 0.55),
    (118.246, 0.50), (118.252, 0.82),
]

SERIES_A = [NOS1_A + NOS1_A_DENSE, KSR2_A + KSR2_A_DENSE, TAOK3_A, FBXO21_A, TESC_A,
            OTHER_A + OTHER_A_DENSE]
SERIES_B = [NOS1_B + NOS1_B_DENSE, KSR2_B + KSR2_B_DENSE, TAOK3_B, FBXO21_B, TESC_B,
            OTHER_B + OTHER_B_DENSE]

# ---- panel C: protein-coding genes (start, end in Mb; end clipped at 118.3) ---
GENE_NAMES = ["C12orf49", "RNFT2", "HRK", "FBXW8", "TESC", "FBXO21", "NOS1", "KSR2", "TAOK3"]
GENE_START = [117.153, 117.177, 117.295, 117.349, 117.478, 117.583, 117.645, 117.891, 118.168]
GENE_END = [117.177, 117.293, 117.322, 117.470, 117.539, 117.631, 117.891, 118.300, 118.300]
GENE_ROW = [1, 2, 1, 1, 2, 1, 2, 1, 2]

# ---- style -------------------------------------------------------------------
GROUP_COLOR = {
    "NOS1": "#d62728", "KSR2": "#1f77b4", "TAOK3": "#2ca02c",
    "FBXO21": "#ff7f0e", "TESC": "#9467bd", "Other": "#b0b0b0",
}
GENE_COLOR = {
    "C12orf49": "#bcbd22", "RNFT2": "#7f7f7f", "HRK": "#e377c2", "FBXW8": "#8c564b",
    "TESC": "#9467bd", "FBXO21": "#ff7f0e", "NOS1": "#d62728", "KSR2": "#1f77b4",
    "TAOK3": "#2ca02c",
}
BOUND_GREY = "#e3e3e3"
MUTED = "#a8a8a8"
INK = "#111111"

plt.rcParams.update({
    "font.family": "DejaVu Sans",
    "font.size": 8,
    "axes.linewidth": 0.9,
    "xtick.labelsize": 8,
    "ytick.labelsize": 8,
})


def scatter_panel(ax, series, title):
    for name, pts in zip(GROUPS, series):
        xs = [p[0] for p in pts]
        ys = [p[1] for p in pts]
        ax.scatter(xs, ys, s=14, color=GROUP_COLOR[name], alpha=0.6,
                   linewidths=0, zorder=2)
    for xb in (LOCUS_START, LOCUS_END):
        ax.axvline(xb, color=BOUND_GREY, lw=1.0, zorder=0)
    ax.axhline(SUGGESTIVE, color="#c4c4c4", lw=0.8, ls=":", zorder=1)
    ax.text(117.02, SUGGESTIVE + 0.07, "suggestive p = 10\u207b\u2075",
            color=MUTED, fontsize=6.5, ha="left", va="bottom")
    ax.set_xlim(117.0, 118.3)
    ax.set_ylim(0, 5.25)
    ax.set_yticks([0, 1, 2, 3, 4, 5])
    ax.set_xticks(X_TICKS)
    ax.tick_params(axis="x", labelbottom=False)
    ax.set_ylabel(r"$-\log_{10}(p)$", fontsize=9, labelpad=2)
    ax.set_title(title, loc="left", fontsize=8.9, fontweight="bold", pad=7)
    for side in ("top", "right"):
        ax.spines[side].set_visible(False)


def top_point(pts):
    return max(pts, key=lambda p: p[1])


fig = plt.figure(figsize=(12, 7.5), dpi=100)
axA = fig.add_axes([0.0458, 0.6333, 0.7250, 0.2787])
axB = fig.add_axes([0.0458, 0.2560, 0.7250, 0.2773])
axC = fig.add_axes([0.0458, 0.0547, 0.7250, 0.1013])

fig.add_artist(Line2D([0, 1], [0.999, 0.999], color="#333333", lw=1.5))
fig.text(0.0062, 0.988,
         "Figure S1. Regional association plot for ME/CFS-inf and IBS at chr12q24.22\n"
         "Neither trait reached genome-wide significance (p < 5\u00d710\u207b\u2078) at this locus; "
         "strongest signals for the two traits cluster in different sub-regions (coloc PP.H4 = 0.007)",
         ha="left", va="top", fontsize=9.2, fontweight="bold", color=INK, linespacing=1.2)

# A
scatter_panel(axA, SERIES_A,
              "A. Infection-onset ME/CFS (DecodeME; minimum p = 2.2\u00d710\u207b\u2075)")
handles = [Line2D([], [], marker="o", ls="none", markersize=3.2, alpha=0.6,
                  markeredgewidth=0, color=GROUP_COLOR[g]) for g in GROUPS]
labels = [f"{g} (n={n})" for g, n in zip(GROUPS, GROUP_N)]
axA.legend(handles, labels, ncol=3, loc="upper left", bbox_to_anchor=(0.008, 0.975),
           frameon=False, fontsize=6.5, handlelength=1.0, handletextpad=0.7,
           columnspacing=1.4, borderaxespad=0.2, labelspacing=0.35)
tx, ty = top_point(TAOK3_A)
axA.annotate("rs61945176\n(near TAOK3)", xy=(tx, ty), xytext=(117.957, 4.85),
             ha="right", va="center", fontsize=6.5, color=INK,
             arrowprops=dict(arrowstyle="->", color="#444444", lw=0.8, shrinkB=2))

# B
scatter_panel(axB, SERIES_B,
              "B. IBS (FinnGen R9 K11_IBS; minimum p = 8.2\u00d710\u207b\u2074)")
bx, by = top_point(KSR2_B)
axB.annotate("rs77337670\n(near KSR2)", xy=(bx, by), xytext=(117.507, 4.07),
             ha="left", va="center", fontsize=6.5, color=INK,
             arrowprops=dict(arrowstyle="->", color="#444444", lw=0.8, shrinkB=2))

# C: gene track
widths = [e - s for s, e in zip(GENE_START, GENE_END)]
axC.barh(GENE_ROW, widths, left=GENE_START, height=0.6,
         color=[GENE_COLOR[g] for g in GENE_NAMES], alpha=0.65,
         edgecolor="#444444", linewidth=0.8, zorder=2)
for name, s, e, row in zip(GENE_NAMES, GENE_START, GENE_END, GENE_ROW):
    axC.text((s + e) / 2, row + 0.75, name, ha="center", va="center", fontsize=7.5,
             style="normal" if name == "C12orf49" else "italic", color=INK)
for xb in (LOCUS_START, LOCUS_END):
    axC.axvline(xb, color=BOUND_GREY, lw=1.0, zorder=3)
axC.set_xlim(117.0, 118.3)
axC.set_ylim(0, 3.5)
axC.set_yticks([])
axC.set_xticks(X_TICKS)
axC.set_xticklabels([f"{t:.1f}" for t in X_TICKS])
axC.set_xlabel("Position on chromosome 12 (Mb, hg19)", fontsize=8.5)
for side in ("top", "right", "left"):
    axC.spines[side].set_visible(False)
axC.set_title("C. Protein-coding genes (LAVA locus 117,091,844\u2013118,256,124 hg19; "
              "TAOK3 partial, extends past locus boundary)",
              loc="left", fontsize=8.9, fontweight="bold", pad=7)

fig.savefig("out.png", dpi=100)
